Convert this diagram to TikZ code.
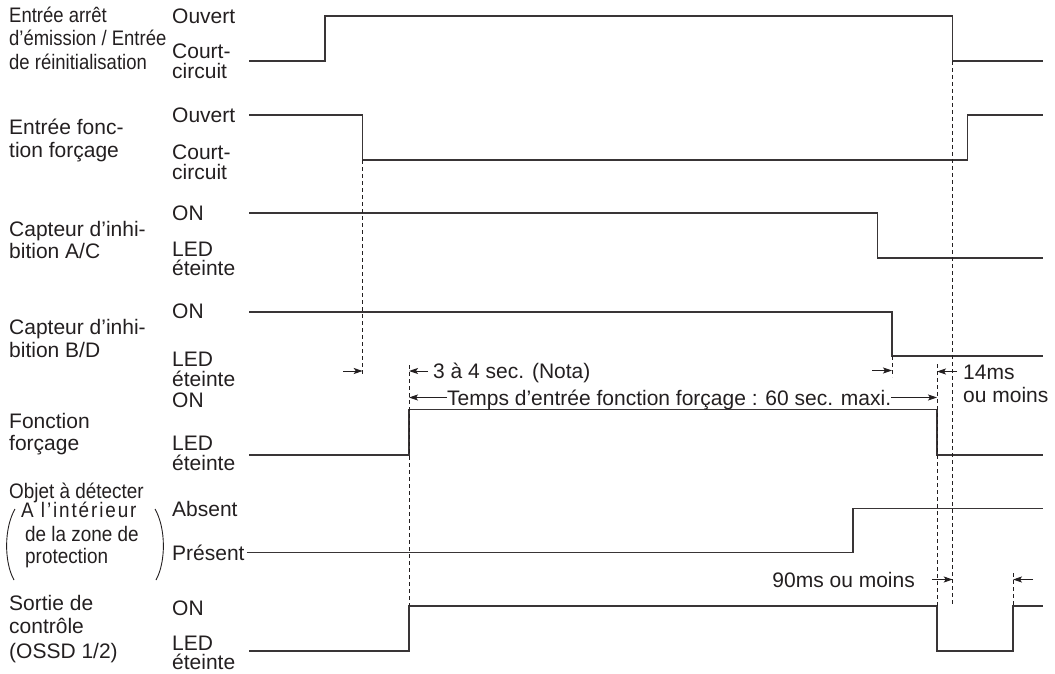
\documentclass[tikz,border=0pt]{standalone}
\usepackage{fontspec}
\setmainfont{Liberation Sans}
\newfontfamily\spacedfont[LetterSpace=10]{Liberation Sans}
\usepackage{graphicx}
\usetikzlibrary{arrows.meta}
\definecolor{ink}{HTML}{231F20}
\tikzset{
  sig/.style={line width=1.3pt, draw=ink!90, line join=miter},
  guide/.style={line width=0.8pt, draw=ink, dash pattern=on 4pt off 3pt},
  dim/.style={line width=1pt, draw=ink, -{Stealth[length=9pt,width=6pt,inset=2pt]}},
  paren/.style={line width=0.9pt, draw=ink},
  txt/.style={anchor=west, inner sep=0pt, text height=15pt, text depth=0pt,
    font=\fontsize{21}{24}\selectfont, text=ink},
}
\newcommand{\cnd}[1]{\scalebox{0.88}[1]{#1}}
\newcommand{\cnb}[1]{\scalebox{0.9}[1]{#1}}
\begin{document}
\begin{tikzpicture}[x=1pt,y=-1pt]
\useasboundingbox (0,0) rectangle (1055,674);

% ---------- left labels ----------
\node[txt] (l1a) at (9,15)   {\cnd{Entrée arrêt}};
\node[txt] (l1b) at (9,38.5) {\cnd{d’émission / Entrée}};
\node[txt] (l1c) at (9,62)   {\cnd{de réinitialisation}};
\node[txt] (l2a) at (9,127.5) {Entrée fonc-};
\node[txt] (l2b) at (9,150)   {tion forçage};
\node[txt] (l3a) at (9,229) {Capteur d’inhi-};
\node[txt] (l3b) at (9,251) {bition A/C};
\node[txt] (l4a) at (9,327) {Capteur d’inhi-};
\node[txt] (l4b) at (9,350) {bition B/D};
\node[txt] (l5a) at (9,421) {Fonction};
\node[txt] (l5b) at (9,443) {forçage};
\node[txt] (l6a) at (9,491)  {\cnb{Objet à détecter}};
\node[txt] (l6b) at (21,510) {\cnb{\spacedfont A l’intérieur}};
\node[txt] (l6c) at (25,534) {\cnb{de la zone de}};
\node[txt] (l6d) at (25,556) {\cnb{protection}};
\node[txt] (l7a) at (9,602.5) {Sortie de};
\node[txt] (l7b) at (9,625.5) {contrôle};
\node[txt] (l7c) at (9,650.5) {(OSSD 1/2)};
\draw[paren] (15,509) .. controls (4,528) and (4,562) .. (14,580);
\draw[paren] (155,509) .. controls (166,528) and (166,562) .. (156,580);

% ---------- state labels ----------
\node[txt] (s1h) at (172,16.5) {Ouvert};
\node[txt] (s1l) at (172,51)   {Court-};
\node[txt] (s1m) at (172,71)   {circuit};
\node[txt] (s2h) at (172,115)  {Ouvert};
\node[txt] (s2l) at (172,152)  {Court-};
\node[txt] (s2m) at (172,172)  {circuit};
\node[txt] (s3h) at (172,213)  {ON};
\node[txt] (s3l) at (172,249)  {LED};
\node[txt] (s3m) at (172,268)  {éteinte};
\node[txt] (s4h) at (172,311)  {ON};
\node[txt] (s4l) at (172,359)  {LED};
\node[txt] (s4m) at (172,379)  {éteinte};
\node[txt] (s5h) at (172,400)  {ON};
\node[txt] (s5l) at (172,443)  {LED};
\node[txt] (s5m) at (172,463)  {éteinte};
\node[txt] (s6h) at (172,509)  {Absent};
\node[txt] (s6l) at (172,552.5){Présent};
\node[txt] (s7h) at (172,608)  {ON};
\node[txt] (s7l) at (172,643)  {LED};
\node[txt] (s7m) at (172,662)  {éteinte};

% ---------- waveforms ----------
\draw[sig] (249,61) -- (325,61) -- (325,16) -- (952.7,16) -- (952.7,61) -- (1043,61);
\draw[sig] (249,115) -- (362.7,115) -- (362.7,160) -- (967.7,160) -- (967.7,115) -- (1043,115);
\draw[sig] (249,213) -- (877.7,213) -- (877.7,258) -- (1043,258);
\draw[sig] (249,312) -- (892,312) -- (892,356) -- (1043,356);
\draw[sig] (249,455) -- (409,455) -- (409,409.5) -- (937,409.5) -- (937,455) -- (1043,455);
\draw[sig] (s6l.east) ++(2,0) -- (853,552.5) -- (853,508.5) -- (1043,508.5);
\draw[sig] (249,651) -- (409,651) -- (409,606) -- (937,606) -- (937,651) -- (1013,651) -- (1013,606) -- (1043,606);

% ---------- guide lines ----------
\coordinate (gA) at (362.7,0);
\coordinate (gB) at (409,0);
\coordinate (gC) at (892,0);
\coordinate (gD) at (937,0);
\coordinate (gE) at (952.7,0);
\coordinate (gF) at (1013,0);
\draw[guide] (362.7,160) -- (362.7,374);
\draw[guide] (409,365) -- (409,606);
\draw[guide] (892,356) -- (892,377);
\draw[guide] (937,364) -- (937,606);
\draw[guide] (952.7,61) -- (952.7,606);
\draw[guide] (1013,573) -- (1013,606);

% ---------- dimension texts ----------
\node[txt] (t34) at (433,371) {3 à 4 sec. (Nota)};
\node[txt, anchor=west] (tps) at (447,397.5) {Temps d’entrée fonction forçage : 60 sec. maxi.};
\node[txt] (t14a) at (963,371.5) {14ms};
\node[txt] (t14b) at (963,395) {ou moins};
\node[txt, anchor=east] (t90) at (915,579.5) {90ms ou moins};

% ---------- dimension arrows ----------
\coordinate (a1) at (343,371);
\draw[dim] (a1) -- (gA |- a1);
\draw[dim] (t34.west) ++(-5,0) coordinate (a2) -- (gB |- a2);
\draw[dim] (tps.west) -- (gB |- tps.west);
\draw[dim] (tps.east) -- (gD |- tps.east);
\coordinate (a3) at (872,370.5);
\draw[dim] (a3) -- (gC |- a3);
\draw[dim] (t14a.west) ++(-6,0) coordinate (a4) -- (gD |- a4);
\draw[dim] (t90.east) ++(17,0) coordinate (a5) -- (gE |- a5);
\coordinate (a6) at (1033,579.5);
\draw[dim] (a6) -- (gF |- a6);
\end{tikzpicture}
\end{document}
